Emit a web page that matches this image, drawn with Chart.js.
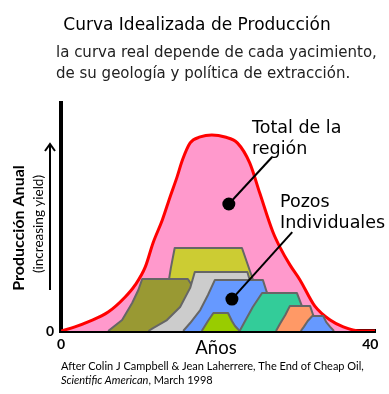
<!DOCTYPE html>
<html>
<head>
<meta charset="utf-8">
<title>Curva Idealizada de Producción</title>
<script src="https://cdn.jsdelivr.net/npm/chart.js@4.4.1/dist/chart.umd.min.js"></script>
<style>
  body { margin: 0; background: #fff; }
  canvas { display: block; }
</style>
</head>
<body>
<canvas id="myChart" width="389" height="394"></canvas>
<script>
// x = años (0-40), y = producción anual (0-100 of the axis height)
const xTicks = [0, 40];
const yTicks = [0];

// total de la región
const totalX = [0, 1.8, 3.5, 6.1, 8.3, 9.6, 10.9, 11.9, 13.1, 14.1, 15.0, 15.7, 16.7, 18.0, 19.5, 21.2, 22.8, 24.4, 25.7, 27.4, 28.3, 29.6, 30.9, 32.8, 34.8, 36.5, 38.7, 40.6];
const totalY = [0, 1.8, 4.0, 8.3, 14.9, 20.2, 28.1, 38.6, 48.7, 58.8, 67.5, 75.0, 82.5, 85.1, 86.0, 85.1, 82.5, 73.7, 60.5, 43.4, 36.8, 29.0, 22.4, 11.0, 4.8, 1.8, 0, 0];

// pozos individuales
const yellowX = [11.5, 12.8, 13.7, 14.2, 14.7, 23.4, 24.7, 25.7, 26.8];
const yellowY = [0, 8.3, 17.1, 27.6, 36.4, 36.4, 23.7, 13.6, 0];
const oliveX = [6.1, 7.9, 9.2, 10.0, 10.5, 16.4, 16.9, 18.0, 19.3, 20.6];
const oliveY = [0, 4.8, 12.3, 18.0, 22.8, 22.8, 20.2, 13.6, 5.7, 0];
const greyX = [11.3, 11.9, 13.7, 15.4, 16.7, 17.3, 24.1, 24.4, 25.2, 26.0];
const greyY = [0, 1.3, 4.8, 10.5, 18.9, 25.9, 25.9, 22.4, 13.6, 0];
const blueX = [15.8, 16.7, 18.0, 19.0, 19.9, 26.1, 26.6, 27.7, 29.0];
const blueY = [0, 3.5, 9.2, 15.8, 22.4, 22.4, 17.1, 9.2, 0];
const limeX = [18.2, 18.6, 19.0, 19.7, 21.6, 22.1, 22.5, 23.1];
const limeY = [0, 2.2, 4.4, 7.9, 7.9, 4.4, 2.2, 0];
const tealX = [23.1, 23.8, 24.8, 26.0, 30.5, 31.2, 31.9, 32.7];
const tealY = [0, 4.4, 10.5, 16.7, 16.7, 10.5, 4.4, 0];
const orangeX = [27.8, 28.3, 29.0, 29.6, 32.2, 32.6, 33.2, 33.7];
const orangeY = [0, 3.1, 7.0, 11.0, 11.0, 7.0, 2.6, 0];
const smallBlueX = [31.0, 31.4, 31.9, 32.5, 33.9, 34.3, 34.8, 35.3];
const smallBlueY = [0, 1.8, 4.4, 6.6, 6.6, 3.9, 1.8, 0];

// pointers (dot first, then end near the label)
const pointerTotalX = [21.7, 27.3];
const pointerTotalY = [55.7, 76.3];
const pointerWellsX = [22.1, 29.9];
const pointerWellsY = [14.0, 43.4];

function toPoints(xs, ys){
	return xs.map((x, i) => ({ x: x, y: ys[i] }));
}

function well(xs, ys, color){
	return {
		data: toPoints(xs, ys),
		backgroundColor: color,
		borderColor: '#666666',
		borderWidth: 2,
		borderJoinStyle: 'round',
		pointRadius: 0,
		tension: 0,
		fill: 'origin'
	};
}

function pointer(xs, ys){
	return {
		data: toPoints(xs, ys),
		borderColor: '#000',
		borderWidth: 2,
		pointRadius: [6.5, 0],
		pointBackgroundColor: '#000',
		pointBorderWidth: 0,
		fill: false
	};
}

// texts that are not part of the axes
const textPlugin = {
	id: 'texts',
	afterDraw(chart){
		const ctx = chart.ctx;
		ctx.save();
		ctx.fillStyle = '#000';
		ctx.textBaseline = 'alphabetic';

		ctx.font = '17px "DejaVu Sans"';
		ctx.textAlign = 'center';
		ctx.fillText('Curva Idealizada de Producción', 197, 30);

		ctx.fillStyle = '#222';
		ctx.font = '15px "DejaVu Sans"';
		ctx.textAlign = 'left';
		ctx.fillText('la curva real depende de cada yacimiento,', 56, 57);
		ctx.fillText('de su geología y política de extracción.', 56, 78);

		ctx.fillStyle = '#000';
		ctx.font = '17.5px "DejaVu Sans"';
		ctx.fillText('Total de la', 252, 133);
		ctx.fillText('región', 252, 154);
		ctx.fillText('Pozos', 280, 207);
		ctx.fillText('Individuales', 280, 228);

		// y axis title
		ctx.save();
		ctx.translate(19, 228);
		ctx.rotate(-Math.PI / 2);
		ctx.textAlign = 'center';
		ctx.textBaseline = 'middle';
		ctx.font = 'bold 16px Lato';
		ctx.fillText('Producción Anual', 0, 0);
		ctx.restore();
		ctx.save();
		ctx.translate(39, 224);
		ctx.rotate(-Math.PI / 2);
		ctx.textAlign = 'center';
		ctx.textBaseline = 'middle';
		ctx.font = '13.5px Lato';
		ctx.fillText('(increasing yield)', 0, 0);
		ctx.restore();

		// arrow
		ctx.strokeStyle = '#000';
		ctx.lineWidth = 2;
		ctx.beginPath();
		ctx.moveTo(50, 290);
		ctx.lineTo(50, 144);
		ctx.moveTo(45, 151);
		ctx.lineTo(50, 144);
		ctx.lineTo(55, 151);
		ctx.stroke();

		ctx.textAlign = 'center';
		ctx.font = '18.5px Lato';
		ctx.fillText('Años', 216, 354);

		ctx.textAlign = 'left';
		ctx.font = '11px Lato';
		ctx.fillText('After Colin J Campbell & Jean Laherrere, The End of Cheap Oil,', 61, 370);
		ctx.font = 'italic 11px Lato';
		ctx.fillText('Scientific American', 61, 384);
		let w = ctx.measureText('Scientific American').width;
		ctx.font = '11px Lato';
		ctx.fillText(', March 1998', 61 + w, 384);
		ctx.restore();
	}
};

let ctx = document.getElementById('myChart');

const config = {
	type: 'line',
	data: {
		// first dataset is drawn on top
		datasets: [
			pointer(pointerTotalX, pointerTotalY),
			pointer(pointerWellsX, pointerWellsY),
			well(smallBlueX, smallBlueY, '#6699ff'),
			well(orangeX, orangeY, '#ff9966'),
			well(tealX, tealY, '#33cc99'),
			well(limeX, limeY, '#99cc00'),
			well(blueX, blueY, '#6699ff'),
			well(greyX, greyY, '#cccccc'),
			well(oliveX, oliveY, '#999933'),
			well(yellowX, yellowY, '#cccc33'),
			{
				data: toPoints(totalX, totalY),
				backgroundColor: '#ff99cc',
				borderColor: '#ff0000',
				borderWidth: 3,
				pointRadius: 0,
				cubicInterpolationMode: 'monotone',
				fill: 'origin'
			}
		]
	},
	options: {
		responsive: false,
		animation: false,
		layout: { padding: { left: 0, top: 103, right: 14, bottom: 0 } },
		plugins: {
			legend: { display: false },
			tooltip: { enabled: false },
			title: { display: false }
		},
		scales: {
			x: {
				type: 'linear',
				min: 0,
				max: 40.6,
				z: 1,
				grid: { display: false, drawTicks: false },
				border: { display: true, width: 4, color: '#000' },
				afterBuildTicks(scale){ scale.ticks = xTicks.map(v => ({ value: v })); },
				afterFit(scale){ scale.height = 63; },
				ticks: {
					padding: 5,
					maxRotation: 0,
					color: '#000',
					font: { family: 'Lato', size: 14, weight: 'bold' }
				}
			},
			y: {
				min: 0,
				max: 100,
				z: 1,
				grid: { display: false, drawTicks: false },
				border: { display: true, width: 4, color: '#000' },
				afterBuildTicks(scale){ scale.ticks = yTicks.map(v => ({ value: v })); },
				afterFit(scale){ scale.width = 61; },
				ticks: {
					padding: 7,
					color: '#000',
					font: { family: 'Lato', size: 14, weight: 'bold' }
				}
			}
		}
	},
	plugins: [textPlugin]
};

let myChart = new Chart(ctx, config);
</script>
</body>
</html>
